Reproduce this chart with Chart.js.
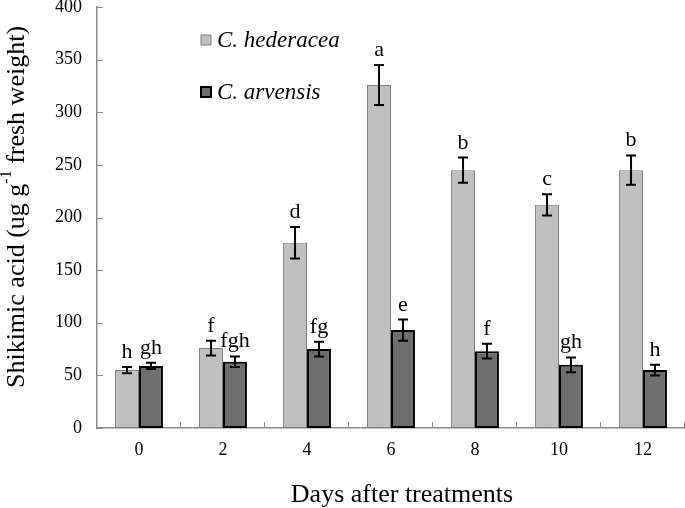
<!DOCTYPE html>
<html>
<head>
<meta charset="utf-8">
<script src="https://cdn.jsdelivr.net/npm/chart.js@4"></script>
<style>
  html, body { margin: 0; padding: 0; background: #fff; }
  #wrap { width: 685px; height: 508px; }
</style>
</head>
<body>
<div id="wrap"><canvas id="shikimicChart"></canvas></div>
<script>
// values
const days = ['0', '2', '4', '6', '8', '10', '12'];
const hederacea = [55, 76, 176, 326, 245, 212, 245];
const arvensis = [59, 63, 75, 93, 73, 60, 55];
const hederaceaErr = [3, 7, 15, 19, 12, 10, 14];
const arvensisErr = [3, 5, 7, 10, 7, 7, 5];
const hederaceaLetters = ['h', 'f', 'd', 'a', 'b', 'c', 'b'];
const arvensisLetters = ['gh', 'fgh', 'fg', 'e', 'f', 'gh', 'h'];
const yTicks = [0, 50, 100, 150, 200, 250, 300, 350, 400];

const serif = '"Liberation Serif", "Times New Roman", serif';
const axisGray = '#8a8a8a';

// error bars, significance letters, inner tick marks, legend, axis titles
const extras = {
  id: 'extras',
  afterDatasetsDraw(chart){
    const ctx = chart.ctx;
    const y = chart.scales.y;
    const area = chart.chartArea;
    const errs = [hederaceaErr, arvensisErr];
    const letters = [hederaceaLetters, arvensisLetters];
    ctx.save();
    chart.data.datasets.forEach(function(ds, di){
      const meta = chart.getDatasetMeta(di);
      meta.data.forEach(function(bar, i){
        const v = ds.data[i], e = errs[di][i];
        const top = y.getPixelForValue(v + e);
        const bot = y.getPixelForValue(v - e);
        ctx.strokeStyle = '#000';
        ctx.lineWidth = 2;
        ctx.beginPath();
        ctx.moveTo(bar.x, top); ctx.lineTo(bar.x, bot);
        ctx.moveTo(bar.x - 5, top); ctx.lineTo(bar.x + 5, top);
        ctx.moveTo(bar.x - 5, bot); ctx.lineTo(bar.x + 5, bot);
        ctx.stroke();
        ctx.fillStyle = '#000';
        ctx.font = '22px ' + serif;
        ctx.textAlign = 'center';
        ctx.textBaseline = 'alphabetic';
        ctx.fillText(letters[di][i], bar.x, top - 9);
      });
    });

    // tick marks pointing into the plot
    ctx.strokeStyle = axisGray;
    ctx.lineWidth = 1;
    ctx.beginPath();
    yTicks.forEach(function(t){
      const py = Math.round(y.getPixelForValue(t)) + 0.5;
      ctx.moveTo(area.left, py); ctx.lineTo(area.left + 6, py);
    });
    const step = (area.right - area.left) / days.length;
    for (let k = 1; k <= days.length; k++){
      const px = Math.round(area.left + k * step) - 0.5;
      ctx.moveTo(px, area.bottom); ctx.lineTo(px, area.bottom - 6);
    }
    ctx.stroke();

    // legend
    const items = [
      { label: 'C. hederacea', fill: '#c0c0c0', stroke: '#7a7a7a', lw: 1, cy: 40 },
      { label: 'C. arvensis', fill: '#6e6e6e', stroke: '#000', lw: 2, cy: 92 }
    ];
    items.forEach(function(it){
      ctx.fillStyle = it.fill;
      ctx.fillRect(201, it.cy - 5, 10, 10);
      ctx.strokeStyle = it.stroke;
      ctx.lineWidth = it.lw;
      ctx.strokeRect(201, it.cy - 5, 10, 10);
      ctx.fillStyle = '#000';
      ctx.font = 'italic 23px ' + serif;
      ctx.textAlign = 'left';
      ctx.textBaseline = 'middle';
      ctx.fillText(it.label, 217, it.cy + 1);
    });

    // x title
    ctx.fillStyle = '#000';
    ctx.font = '26px ' + serif;
    ctx.textAlign = 'center';
    ctx.textBaseline = 'middle';
    ctx.fillText('Days after treatments', 402, 495);

    // y title with a real superscript
    const big = '26px ' + serif, small = '16px ' + serif;
    const parts = [['Shikimic acid (ug g', big, 0], ['-1', small, -10], [' fresh weight)', big, 0]];
    let total = 0;
    parts.forEach(function(p){ ctx.font = p[1]; total += ctx.measureText(p[0]).width; });
    ctx.translate(17, 207);
    ctx.rotate(-Math.PI / 2);
    ctx.textAlign = 'left';
    let x = -total / 2;
    parts.forEach(function(p){
      ctx.font = p[1];
      ctx.fillText(p[0], x, p[2]);
      x += ctx.measureText(p[0]).width;
    });
    ctx.restore();
  }
};

const ctx = document.getElementById('shikimicChart').getContext('2d');
new Chart(ctx, {
  type: 'bar',
  data: {
    labels: days,
    datasets: [
      { label: 'C. hederacea', data: hederacea, backgroundColor: '#c0c0c0', borderColor: '#7a7a7a', borderWidth: 1, borderSkipped: false },
      { label: 'C. arvensis', data: arvensis, backgroundColor: '#6e6e6e', borderColor: '#000', borderWidth: 2, borderSkipped: false }
    ]
  },
  options: {
    responsive: true,
    maintainAspectRatio: false,
    animation: false,
    layout: { padding: { top: 7, right: 0, left: 0, bottom: 0 } },
    datasets: { bar: { categoryPercentage: 0.57, barPercentage: 1 } },
    plugins: { legend: { display: false }, tooltip: { enabled: false } },
    scales: {
      x: {
        grid: { display: false },
        border: { color: axisGray, width: 1.5 },
        ticks: { color: '#000', font: { family: serif, size: 18 }, padding: 3 },
        afterFit(scale){ scale.height = 80; scale.paddingLeft = 0; scale.paddingRight = 0; }
      },
      y: {
        min: 0, max: 400,
        grid: { display: false },
        border: { color: axisGray, width: 1.5 },
        ticks: { stepSize: 50, color: '#000', font: { family: serif, size: 18, lineHeight: 1 }, padding: 7 },
        afterFit(scale){ scale.width = 97; scale.paddingTop = 0; scale.paddingBottom = 0; }
      }
    }
  },
  plugins: [extras]
});
</script>
</body>
</html>
